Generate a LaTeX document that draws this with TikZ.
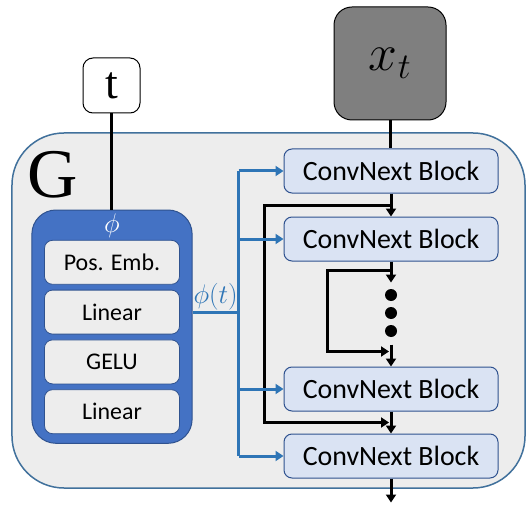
\RequirePackage{fix-cm}
\documentclass[tikz,border=0pt]{standalone}
\usepackage{fontspec}
\newfontfamily\calibri{Carlito}
\newfontfamily\timesfont{Liberation Serif}
\usetikzlibrary{matrix,arrows.meta,calc,fit,positioning,backgrounds}

\definecolor{gfill}{HTML}{EDEDED}
\definecolor{gline}{HTML}{41719C}
\definecolor{phiblue}{HTML}{4472C4}
\definecolor{philine}{HTML}{2F528F}
\definecolor{blockfill}{HTML}{DAE3F3}
\definecolor{condblue}{HTML}{2E75B6}
\definecolor{xgray}{HTML}{7F7F7F}

\tikzset{
  block/.style={draw=philine, line width=1bp, fill=blockfill, rounded corners=8bp,
    minimum width=214bp, minimum height=44bp, inner sep=0pt,
    font=\calibri\fontsize{28}{30}\selectfont},
  layer/.style={draw=philine, line width=0.8bp, fill=gfill, rounded corners=8bp,
    minimum width=135bp, minimum height=44bp, inner sep=0pt,
    font=\calibri\fontsize{24}{26}\selectfont},
  dot/.style={circle, fill, minimum size=12bp, inner sep=0pt},
  flow/.style={line width=3bp, -{Triangle[length=8bp,width=10bp]}},
  cond/.style={condblue, line width=3bp, -{Triangle[length=8bp,width=10bp]}},
}

\begin{document}
\begin{tikzpicture}[x=1bp, y=-1bp]
  \useasboundingbox (0,0) rectangle (532,512);

  \matrix (layers) [matrix of nodes, nodes={layer}, row sep=5bp, inner sep=0pt] at (112,337) {
    Pos. Emb.\\
    Linear\\
    GELU\\
    Linear\\
  };
  \coordinate (phitop) at (112,219);
  \begin{scope}[on background layer]
    \node[draw=gline, line width=1.5bp, fill=gfill, rounded corners=52bp,
      minimum width=513bp, minimum height=355bp] (G) at (268.5,310.5) {};
    \node[draw=philine, line width=1bp, fill=phiblue, rounded corners=24bp,
      inner xsep=12bp, inner ysep=9bp, fit={(layers) (phitop)}] (phi) {};
  \end{scope}
  \node[font=\timesfont\fontsize{70}{70}\selectfont, inner sep=0pt] (Glabel) at (53,175) {G};
  \node[white, font=\fontsize{27}{27}\selectfont] (phihead) at (112,226) {$\phi$};

  \node[draw, line width=1bp, fill=white, rounded corners=10bp, minimum width=57bp,
    minimum height=55bp, font=\timesfont\fontsize{46}{46}\selectfont] (t) at (111.5,85.5) {t};
  \node[draw, line width=1bp, fill=xgray, rounded corners=18bp, minimum width=112bp,
    minimum height=113bp, font=\fontsize{52}{52}\selectfont] (xt) at (390,63.5) {$x_t$};

  \node[block] (blk1) at (391,171) {ConvNext Block};
  \node[block, below=23bp of blk1] (blk2) {ConvNext Block};
  \node[block] (blk4) at (391,456) {ConvNext Block};
  \node[block, above=22bp of blk4] (blk3) {ConvNext Block};

  \draw[line width=3bp] (t) -- (t |- phi.north);
  \draw[line width=3bp] (xt.south) -- (xt.south |- blk1.north);

  \coordinate (dotsA) at ($(blk2.south)+(0,21)$);
  \coordinate (dotsB) at ($(blk3.north)+(0,-22)$);
  \coordinate (out) at ($(blk4.south)+(0,24)$);
  \foreach \y [count=\i] in {295,313,331}
    \node[dot] (dot\i) at (391,\y) {};
  \draw[flow] (blk1) -- (blk2);
  \draw[flow] (blk2) -- (dotsA);
  \draw[flow] (dotsB) -- (blk3);
  \draw[flow] (blk3) -- (blk4);
  \draw[flow] (blk4) -- (out);

  \coordinate (skipA) at ($(blk1.south)!0.5!(blk2.north)$);
  \coordinate (skipAin) at ($(blk3.south)!0.5!(blk4.north)$);
  \coordinate (skipB) at ($(blk2.south)+(0,9)$);
  \coordinate (skipBin) at ($(blk3.north)+(0,-15)$);
  \draw[flow, shorten >=2bp] (skipA) -- ++(-127,0) |- (skipAin);
  \draw[flow, shorten >=2bp] (skipB) -- ++(-64,0) |- (skipBin);

  \coordinate (bus) at ($(phi.east |- layers-2-1)+(46,0)$);
  \draw[condblue, line width=3bp] (phi.east |- layers-2-1) -- (bus);
  \draw[condblue, line width=3bp] (bus |- blk1) -- (bus |- blk4);
  \foreach \b in {1,...,4}
    \draw[cond] (bus |- blk\b) -- (blk\b);
  \node[above, condblue, inner sep=1.5bp, font=\fontsize{27}{27}\selectfont] (phit)
    at ($(phi.east |- layers-2-1)!0.5!(bus)$) {$\phi(t)$};
\end{tikzpicture}
\end{document}
